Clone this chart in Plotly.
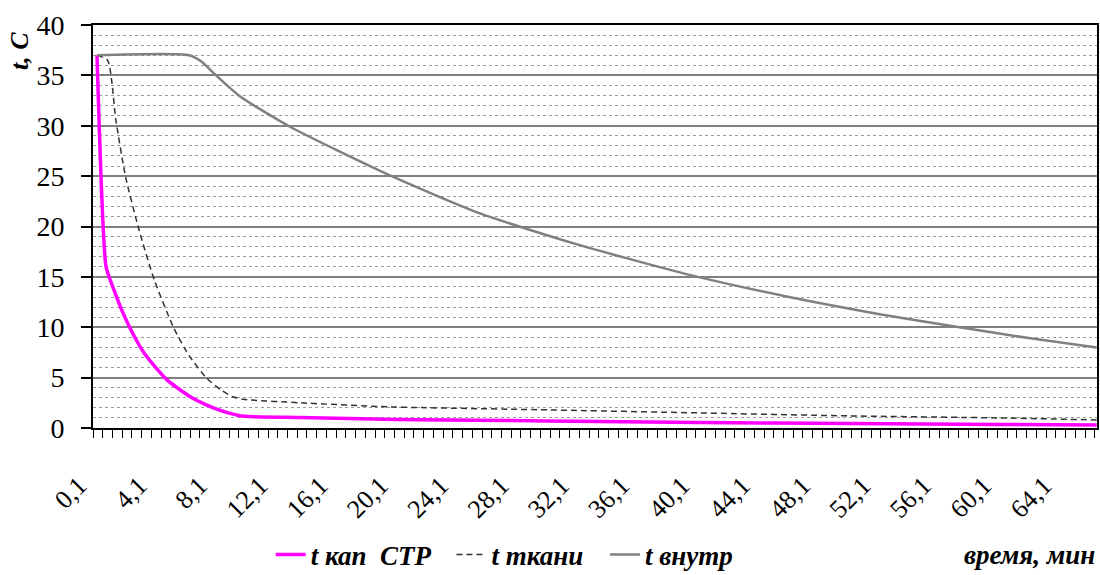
import plotly.graph_objects as go

# time (min) and temperatures (C)
t_kap = [0.1, 0.7, 1.2, 1.8, 2.5, 3.2, 4.0, 4.8, 5.6, 6.4, 7.2, 8.0, 8.8, 9.5, 10.5, 13.5, 20, 30, 40, 50, 60, 66.4]
v_kap = [37.0, 16.0, 13.8, 11.5, 9.3, 7.5, 6.0, 4.7, 3.8, 3.0, 2.4, 1.9, 1.5, 1.25, 1.12, 1.05, 0.85, 0.7, 0.55, 0.45, 0.35, 0.3]

t_tkani = [0.1, 0.8, 1.35, 2.0, 2.9, 3.9, 5.2, 6.2, 7.4, 8.4, 9.1, 9.8, 13.6, 19.5, 30, 40, 50, 60, 66.4]
v_tkani = [37.0, 36.5, 30.6, 24.9, 19.6, 14.7, 9.9, 7.2, 4.9, 3.7, 3.1, 2.85, 2.5, 2.1, 1.8, 1.5, 1.2, 1.0, 0.8]

t_vnutr = [0.1, 6.2, 7.0, 8.0, 9.6, 12.9, 19.2, 25.5, 32.0, 39.4, 46.0, 52.0, 57.3, 62.0, 66.4]
v_vnutr = [37.0, 37.0, 36.4, 35.0, 32.9, 29.9, 25.3, 21.3, 18.2, 15.2, 13.0, 11.3, 10.0, 8.9, 8.0]

x_tickvals = [0.1 + 4 * i for i in range(17)]
x_ticktext = [f"{v:.1f}".replace(".", ",") for v in x_tickvals]
y_tickvals = [0, 5, 10, 15, 20, 25, 30, 35, 40]

serif = "Liberation Serif"
leg_font = dict(family=serif, size=27, weight="bold", style="italic")

fig = go.Figure()
fig.add_trace(go.Scatter(x=t_kap, y=v_kap, mode="lines", name="t кап  СТР", legend="legend",
                         line=dict(color="#FF00FF", width=3.5, shape="spline", smoothing=0.5)))
fig.add_trace(go.Scatter(x=t_tkani, y=v_tkani, mode="lines", name="t ткани", legend="legend2",
                         line=dict(color="#333333", width=1.5, dash="6px,4px", shape="spline", smoothing=0.6)))
fig.add_trace(go.Scatter(x=t_vnutr, y=v_vnutr, mode="lines", name="t внутр", legend="legend3",
                         line=dict(color="#808080", width=2.5, shape="spline", smoothing=0.6)))

leg_common = dict(orientation="h", xanchor="left", y=-0.315, yanchor="middle",
                  font=leg_font, bgcolor="rgba(0,0,0,0)")

fig.update_layout(
    width=1100, height=575,
    margin=dict(l=93, r=3, t=25, b=147, autoexpand=False),
    paper_bgcolor="white", plot_bgcolor="white",
    font=dict(family=serif, color="black"),
    showlegend=True,
    legend=dict(x=0.177, **leg_common),
    legend2=dict(x=0.357, **leg_common),
    legend3=dict(x=0.510, **leg_common),
)

fig.update_xaxes(
    range=[-0.165, 66.42], automargin=False,
    tickmode="array", tickvals=x_tickvals, ticktext=x_ticktext,
    tickangle=-45, tickfont=dict(family=serif, size=26),
    ticks="", showgrid=False, zeroline=False,
    ticklabelstandoff=30, ticklabelshift=-18,
    showline=True, linecolor="black", linewidth=2, mirror=True,
    minor=dict(ticks="outside", ticklen=8, tickwidth=1.2, tickcolor="black",
               tick0=-0.165, dtick=0.645, showgrid=False),
)

fig.update_yaxes(
    range=[0, 40], automargin=False,
    tickmode="array", tickvals=y_tickvals,
    tickfont=dict(family=serif, size=28),
    ticks="outside", ticklen=10, tickwidth=1.5, tickcolor="black",
    ticklabelstandoff=11,
    showgrid=True, gridcolor="#808080", gridwidth=2,
    zeroline=False,
    showline=True, linecolor="black", linewidth=2, mirror=True,
    minor=dict(tick0=0, dtick=1, showgrid=True, gridcolor="#999999", gridwidth=1, griddash="dot", ticks=""),
)

fig.add_annotation(text="<b><i>t, C</i></b>", xref="paper", yref="paper",
                   x=-0.074, y=0.935, textangle=-90, showarrow=False,
                   font=dict(family=serif, size=26), xanchor="center", yanchor="middle")
fig.add_annotation(text="<b><i>время, мин</i></b>", xref="paper", yref="paper",
                   x=1.0, y=-0.315, showarrow=False, xanchor="right", yanchor="middle",
                   font=dict(family=serif, size=27))

fig.write_html("out.html")
